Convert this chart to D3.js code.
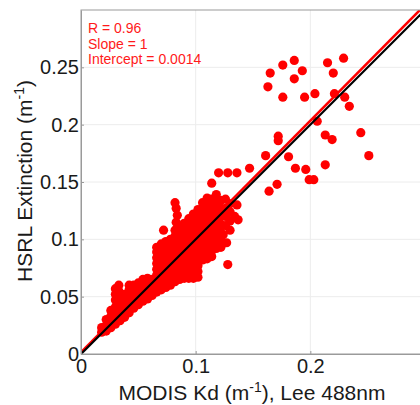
<!DOCTYPE html>
<html>
<head>
<meta charset="utf-8">
<script src="https://cdn.jsdelivr.net/npm/d3@7"></script>
<style>
  body { margin: 0; background: #fff; }
  text { font-family: "Liberation Sans", Arial, sans-serif; }
</style>
</head>
<body>
<div id="chart"></div>
<script>
// Dense cluster of matchups: [MODIS Kd, HSRL extinction]
const clusterPoints = [
  [0.018, 0.019], [0.018, 0.023],
  [0.022, 0.020], [0.022, 0.025], [0.022, 0.030],
  [0.026, 0.023], [0.026, 0.028], [0.026, 0.033], [0.026, 0.038],
  [0.030, 0.026], [0.030, 0.031], [0.030, 0.036], [0.030, 0.041], [0.030, 0.047], [0.030, 0.052], [0.030, 0.057],
  [0.033, 0.049], [0.033, 0.055], [0.033, 0.060],
  [0.034, 0.029], [0.034, 0.034], [0.034, 0.039], [0.034, 0.044],
  [0.038, 0.032], [0.038, 0.037], [0.038, 0.042], [0.038, 0.047], [0.038, 0.052],
  [0.042, 0.036], [0.042, 0.041], [0.042, 0.046], [0.042, 0.051], [0.042, 0.056], [0.042, 0.060],
  [0.046, 0.040], [0.046, 0.045], [0.046, 0.050], [0.046, 0.055], [0.046, 0.060],
  [0.050, 0.043], [0.050, 0.048], [0.050, 0.053], [0.050, 0.058], [0.050, 0.062],
  [0.054, 0.046], [0.054, 0.051], [0.054, 0.056], [0.054, 0.061], [0.054, 0.065],
  [0.058, 0.048], [0.058, 0.053], [0.058, 0.058], [0.058, 0.063], [0.058, 0.066],
  [0.062, 0.051], [0.062, 0.056], [0.062, 0.061], [0.062, 0.065],
  [0.066, 0.054], [0.066, 0.059], [0.066, 0.064], [0.066, 0.069], [0.066, 0.074], [0.066, 0.079], [0.066, 0.084], [0.066, 0.089], [0.066, 0.093],
  [0.070, 0.056], [0.070, 0.061], [0.070, 0.066], [0.070, 0.071], [0.070, 0.076], [0.070, 0.081], [0.070, 0.086], [0.070, 0.091], [0.070, 0.096], [0.072, 0.108],
  [0.074, 0.058], [0.074, 0.063], [0.074, 0.068], [0.074, 0.073], [0.074, 0.078], [0.074, 0.083], [0.074, 0.088], [0.074, 0.093], [0.074, 0.098],
  [0.078, 0.060], [0.078, 0.065], [0.078, 0.070], [0.078, 0.075], [0.078, 0.080], [0.078, 0.085], [0.078, 0.090], [0.078, 0.095], [0.078, 0.100],
  [0.082, 0.063], [0.082, 0.068], [0.082, 0.073], [0.082, 0.078], [0.082, 0.083], [0.082, 0.088], [0.082, 0.093], [0.082, 0.098], [0.082, 0.103], [0.082, 0.108],
  [0.083, 0.115], [0.084, 0.121], [0.083, 0.127], [0.082, 0.132],
  [0.086, 0.065], [0.086, 0.070], [0.086, 0.075], [0.086, 0.080], [0.086, 0.085], [0.086, 0.090], [0.086, 0.095], [0.086, 0.100], [0.086, 0.105], [0.086, 0.110],
  [0.090, 0.066], [0.090, 0.071], [0.090, 0.076], [0.090, 0.081], [0.090, 0.086], [0.090, 0.091], [0.090, 0.096], [0.090, 0.101], [0.090, 0.106], [0.090, 0.111], [0.090, 0.114],
  [0.094, 0.066], [0.094, 0.072], [0.094, 0.078], [0.094, 0.084], [0.094, 0.089], [0.094, 0.094], [0.094, 0.099], [0.094, 0.104], [0.094, 0.109], [0.094, 0.114], [0.094, 0.118],
  [0.098, 0.066], [0.098, 0.070], [0.098, 0.076], [0.098, 0.082], [0.098, 0.088], [0.098, 0.093], [0.098, 0.098], [0.098, 0.103], [0.098, 0.108], [0.098, 0.113], [0.098, 0.118], [0.098, 0.122],
  [0.102, 0.067], [0.102, 0.072], [0.102, 0.077], [0.102, 0.082], [0.102, 0.087], [0.102, 0.092], [0.102, 0.097], [0.102, 0.102], [0.102, 0.107], [0.102, 0.112], [0.102, 0.117], [0.102, 0.122], [0.102, 0.126],
  [0.106, 0.082], [0.106, 0.087], [0.106, 0.092], [0.106, 0.097], [0.106, 0.102], [0.106, 0.107], [0.106, 0.112], [0.106, 0.117], [0.106, 0.122], [0.106, 0.127], [0.106, 0.132],
  [0.110, 0.083], [0.110, 0.088], [0.110, 0.093], [0.110, 0.098], [0.110, 0.103], [0.110, 0.108], [0.110, 0.113], [0.110, 0.118], [0.110, 0.123], [0.110, 0.128], [0.110, 0.133], [0.110, 0.136],
  [0.114, 0.085], [0.114, 0.090], [0.114, 0.095], [0.114, 0.100], [0.114, 0.105], [0.114, 0.110], [0.114, 0.115], [0.114, 0.120], [0.114, 0.125], [0.114, 0.130], [0.114, 0.135],
  [0.118, 0.092], [0.118, 0.097], [0.118, 0.102], [0.118, 0.107], [0.118, 0.112], [0.118, 0.117], [0.118, 0.122], [0.118, 0.127], [0.118, 0.133],
  [0.122, 0.093], [0.122, 0.099], [0.122, 0.106], [0.122, 0.113], [0.122, 0.120], [0.122, 0.127], [0.122, 0.134],
  [0.124, 0.104], [0.127, 0.097], [0.121, 0.113],
  [0.126, 0.112], [0.126, 0.120], [0.126, 0.127],
  [0.130, 0.108], [0.130, 0.116], [0.130, 0.124], [0.130, 0.131],
  [0.134, 0.120], [0.136, 0.130], [0.137, 0.117],
  [0.128, 0.078]
];

// Scattered high-extinction matchups
const outlierPoints = [
  [0.165, 0.245], [0.176, 0.252], [0.186, 0.256], [0.193, 0.247], [0.186, 0.240],
  [0.163, 0.233], [0.176, 0.224], [0.195, 0.224], [0.204, 0.227], [0.215, 0.254],
  [0.220, 0.245], [0.229, 0.258], [0.221, 0.227], [0.230, 0.224], [0.234, 0.216],
  [0.206, 0.203], [0.172, 0.190], [0.172, 0.186], [0.213, 0.191], [0.219, 0.187],
  [0.244, 0.193], [0.161, 0.173], [0.181, 0.172], [0.251, 0.173], [0.213, 0.165],
  [0.187, 0.162], [0.196, 0.161], [0.147, 0.162], [0.120, 0.158], [0.128, 0.158],
  [0.136, 0.158], [0.164, 0.142], [0.171, 0.148], [0.199, 0.152], [0.203, 0.152],
  [0.114, 0.149], [0.118, 0.139], [0.126, 0.135]
];

// fit drawn as it appears in the figure (label rounds slope to 1)
const fitSlope = 1.01;
const fitIntercept = 0.0014;
const statLabels = ["R = 0.96", "Slope = 1", "Intercept = 0.0014"];
const xTicks = [0, 0.1, 0.2];
const yTicks = [0, 0.05, 0.1, 0.15, 0.2, 0.25];
const axisMax = 0.3;

const width = 420;
const height = 405;
const margin = { left: 81, top: 10 };
const plotSize = 344;

const svg = d3.select("#chart")
  .append("svg")
  .attr("width", width)
  .attr("height", height);

const x = d3.scaleLinear().domain([0, axisMax]).range([margin.left, margin.left + plotSize]);
const y = d3.scaleLinear().domain([0, axisMax]).range([margin.top + plotSize, margin.top]);

svg.append("defs").append("clipPath")
  .attr("id", "plotClip")
  .append("rect")
  .attr("x", margin.left)
  .attr("y", margin.top)
  .attr("width", plotSize)
  .attr("height", plotSize);

// grid lines
const grid = svg.append("g").attr("stroke", "#ececec").attr("stroke-width", 1);
grid.selectAll("line.gx")
  .data(xTicks.filter(d => d > 0))
  .enter().append("line")
  .attr("x1", d => x(d)).attr("x2", d => x(d))
  .attr("y1", y(0)).attr("y2", y(axisMax));
grid.selectAll("line.gy")
  .data(yTicks.filter(d => d > 0))
  .enter().append("line")
  .attr("x1", x(0)).attr("x2", x(axisMax))
  .attr("y1", d => y(d)).attr("y2", d => y(d));

// points
const pts = svg.append("g").attr("clip-path", "url(#plotClip)");
pts.selectAll("circle")
  .data(clusterPoints.concat(outlierPoints))
  .enter().append("circle")
  .attr("cx", d => x(d[0]))
  .attr("cy", d => y(d[1]))
  .attr("r", 4.6)
  .attr("fill", "#ff0000");

// fit line, then 1:1 line on top
const lines = svg.append("g").attr("clip-path", "url(#plotClip)");
lines.append("line")
  .attr("x1", x(0)).attr("y1", y(fitIntercept))
  .attr("x2", x(axisMax)).attr("y2", y(fitIntercept + fitSlope * axisMax))
  .attr("stroke", "#ff0000").attr("stroke-width", 2.6);
lines.append("line")
  .attr("x1", x(0)).attr("y1", y(0))
  .attr("x2", x(axisMax)).attr("y2", y(axisMax))
  .attr("stroke", "#000").attr("stroke-width", 2.2);

// frame
svg.append("rect")
  .attr("x", margin.left).attr("y", margin.top)
  .attr("width", plotSize).attr("height", plotSize)
  .attr("fill", "none").attr("stroke", "#9a9a9a").attr("stroke-width", 1);

// axes
const xAxis = svg.append("g")
  .attr("transform", `translate(0,${y(0)})`)
  .call(d3.axisBottom(x).tickValues(xTicks).tickFormat(d3.format("")).tickSize(-3).tickSizeOuter(0).tickPadding(5));
const yAxis = svg.append("g")
  .attr("transform", `translate(${x(0)},0)`)
  .call(d3.axisLeft(y).tickValues(yTicks).tickFormat(d3.format("")).tickSize(-3).tickSizeOuter(0).tickPadding(2));

[xAxis, yAxis].forEach(a => {
  a.select(".domain").attr("stroke", "#9a9a9a");
  a.selectAll(".tick line").attr("stroke", "#9a9a9a");
  a.selectAll(".tick text")
    .attr("fill", "#1a1a1a")
    .style("font-size", "20px")
    .style("font-family", "'Liberation Sans', Arial, sans-serif");
});

// axis titles
const xTitle = svg.append("text")
  .attr("x", 252).attr("y", 400)
  .attr("text-anchor", "middle")
  .attr("fill", "#1a1a1a")
  .style("font-size", "21px");
xTitle.append("tspan").text("MODIS Kd (m");
xTitle.append("tspan").attr("dy", -8).style("font-size", "14px").text("-1");
xTitle.append("tspan").attr("dy", 8).text("), Lee 488nm");

const yTitle = svg.append("text")
  .attr("transform", `translate(32,181) rotate(-90)`)
  .attr("text-anchor", "middle")
  .attr("fill", "#1a1a1a")
  .style("font-size", "21px");
yTitle.append("tspan").text("HSRL Extinction (m");
yTitle.append("tspan").attr("dy", -8).style("font-size", "14px").text("-1");
yTitle.append("tspan").attr("dy", 8).text(")");

// fit statistics
svg.append("g").selectAll("text")
  .data(statLabels)
  .enter().append("text")
  .attr("x", 88)
  .attr("y", (d, i) => 33 + i * 15.6)
  .attr("fill", "#ff1a1a")
  .style("font-size", "14px")
  .text(d => d);
</script>
</body>
</html>
